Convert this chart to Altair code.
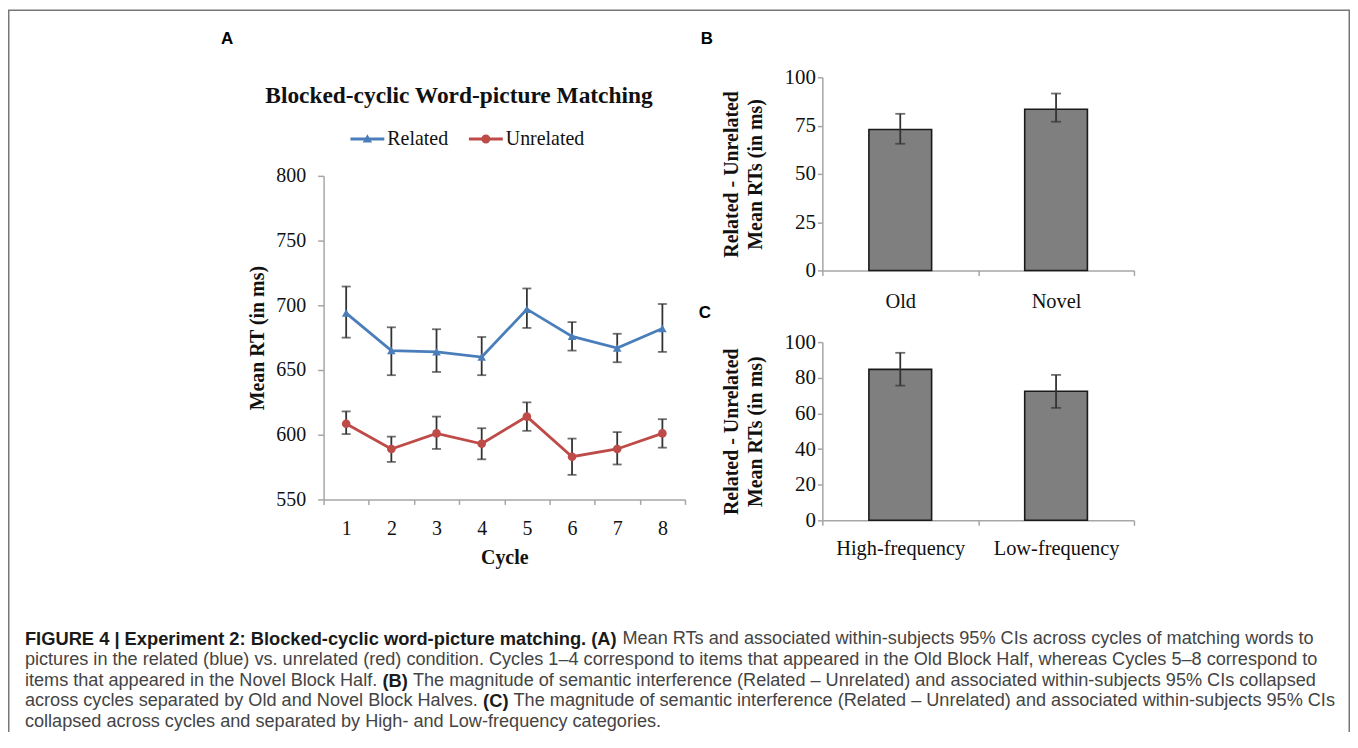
import altair as alt
import pandas as pd

# ----------------------------- data -----------------------------
cycles = [1, 2, 3, 4, 5, 6, 7, 8]
series_names = ["Related", "Unrelated"]
series_colors = ["#4a7ebb", "#be4b48"]
series_shapes = ["triangle-up", "circle"]
related_mean = [694, 665, 664, 660, 697, 676, 667, 682]
related_lo = [675, 646, 648.5, 646, 682.5, 665, 656, 664]
related_hi = [714.5, 683, 681.5, 675.5, 713, 687, 678, 701]
unrelated_mean = [608.5, 589, 601, 593, 614, 583, 589, 601]
unrelated_lo = [600.5, 579, 589, 581, 603, 569, 577, 590]
unrelated_hi = [618, 598.5, 614, 605, 625, 597, 602, 612]

half_labels = ["Old", "Novel"]
half_mean = [73.0, 83.5]
half_lo = [65.6, 77.0]
half_hi = [81.1, 91.6]

freq_labels = ["High-frequency", "Low-frequency"]
freq_mean = [84.7, 72.4]
freq_lo = [75.6, 63.1]
freq_hi = [94.0, 81.6]

a_ticks = [550, 600, 650, 700, 750, 800]
b_ticks = [0, 25, 50, 75, 100]
c_ticks = [0, 20, 40, 60, 80, 100]

title_a = "Blocked-cyclic Word-picture Matching"
ytitle_a = "Mean RT (in ms)"
xtitle_a = "Cycle"
ytitle_bc = ["Related - Unrelated", "Mean RTs (in ms)"]
panel_letters = ["A", "B", "C"]

caption = [
    [("FIGURE 4 | Experiment 2: Blocked-cyclic word-picture matching. (A)", True),
     ("Mean RTs and associated within-subjects 95% CIs across cycles of matching words to", False)],
    [("pictures in the related (blue) vs. unrelated (red) condition. Cycles 1\u20134 correspond to items that appeared in the Old Block Half, whereas Cycles 5\u20138 correspond to", False)],
    [("items that appeared in the Novel Block Half.", False), ("(B)", True),
     ("The magnitude of semantic interference (Related \u2013 Unrelated) and associated within-subjects 95% CIs collapsed", False)],
    [("across cycles separated by Old and Novel Block Halves.", False), ("(C)", True),
     ("The magnitude of semantic interference (Related \u2013 Unrelated) and associated within-subjects 95% CIs", False)],
    [("collapsed across cycles and separated by High- and Low-frequency categories.", False)],
]

# ----------------------------- layout -----------------------------
W, H = 1348, 724
A_XR, A_YR = [317, 680], [492, 167]
B_XR, B_YR = [818, 1131], [262, 68]
C_XR, C_YR = [818, 1131], [513, 334]
SERIF = "Liberation Serif"
SANS = "Liberation Sans"
ERR = "#333333"

# Arial / Helvetica advance widths (1/1000 em) to place mixed-weight caption runs
_reg = {" ": 278, "(": 333, ")": 333, "-": 333, ".": 278, ",": 278, "%": 889, "\u2013": 556, ":": 278, "|": 260}
_bold = {" ": 278, "(": 333, ")": 333, "-": 333, ".": 278, ",": 278, "%": 889, "\u2013": 556, ":": 333, "|": 280}
for d in "0123456789":
    _reg[d] = 556
    _bold[d] = 556
_reg.update(dict(zip("ABCDEFGHIJKLMNOPQRSTUVWXYZ",
                     [667, 667, 722, 722, 667, 611, 778, 722, 278, 500, 667, 556, 833, 722, 778, 667, 778, 722, 667, 611, 722, 667, 944, 667, 667, 611])))
_reg.update(dict(zip("abcdefghijklmnopqrstuvwxyz",
                     [556, 556, 500, 556, 556, 278, 556, 556, 222, 222, 500, 222, 833, 556, 556, 556, 556, 333, 500, 278, 556, 500, 722, 500, 500, 500])))
_bold.update(dict(zip("ABCDEFGHIJKLMNOPQRSTUVWXYZ",
                      [722, 722, 722, 722, 667, 611, 778, 722, 278, 556, 722, 611, 833, 722, 778, 667, 778, 722, 667, 611, 722, 667, 944, 667, 667, 611])))
_bold.update(dict(zip("abcdefghijklmnopqrstuvwxyz",
                      [556, 611, 556, 611, 556, 333, 611, 611, 278, 278, 556, 278, 889, 611, 611, 611, 611, 389, 556, 333, 611, 556, 778, 556, 556, 500])))


def text_width(s, bold, size):
    tbl = _bold if bold else _reg
    return sum(tbl.get(ch, 556) for ch in s) * size / 1000.0


# ----------------------------- frames -----------------------------
n = len(cycles)
dfA = pd.DataFrame({
    "cycle": cycles * 2,
    "series": [series_names[0]] * n + [series_names[1]] * n,
    "marker": [series_shapes[0]] * n + [series_shapes[1]] * n,
    "linecol": [series_colors[0]] * n + [series_colors[1]] * n,
    "mean": related_mean + unrelated_mean,
    "lo": related_lo + unrelated_lo,
    "hi": related_hi + unrelated_hi,
})
capsA = dfA.melt(id_vars=["cycle", "series"], value_vars=["lo", "hi"], value_name="v")

dfB = pd.DataFrame({"cat": half_labels, "mean": half_mean, "lo": half_lo, "hi": half_hi})
capsB = dfB.melt(id_vars=["cat"], value_vars=["lo", "hi"], value_name="v")
dfC = pd.DataFrame({"cat": freq_labels, "mean": freq_mean, "lo": freq_lo, "hi": freq_hi})
capsC = dfC.melt(id_vars=["cat"], value_vars=["lo", "hi"], value_name="v")

# ----------------------------- panel A -----------------------------
scA_x = alt.Scale(type="band", domain=cycles, range=A_XR, paddingInner=0, paddingOuter=0)
scA_y = alt.Scale(domain=[a_ticks[0], a_ticks[-1]], range=A_YR, nice=False, zero=False)
axA_x = alt.Axis(orient="bottom", offset=A_YR[0] - H, title=xtitle_a, labelAngle=0, tickBand="extent",
                 tickSize=5, labelPadding=14, titlePadding=9, labelFontSize=20, titleFontSize=20)
axA_y = alt.Axis(orient="left", offset=-A_XR[0], values=a_ticks, title=ytitle_a, tickSize=6,
                 labelPadding=12, titlePadding=8, labelFontSize=20, titleFontSize=20)
xA = alt.X("cycle:O", scale=scA_x, axis=axA_x)

ruleA = alt.Chart(dfA).mark_rule(color=ERR, strokeWidth=1.8).encode(
    x=xA, y=alt.Y("lo:Q", scale=scA_y, axis=axA_y), y2="hi:Q",
)
capA = alt.Chart(capsA).mark_tick(color=ERR, thickness=1.8, size=9).encode(
    x=xA, y=alt.Y("v:Q", scale=scA_y, axis=axA_y),
)
lineA = alt.Chart(dfA).mark_line(strokeWidth=2.8).encode(
    x=xA, y=alt.Y("mean:Q", scale=scA_y, axis=axA_y),
    stroke=alt.Stroke("linecol:N", scale=None),
)
sym_line = "M-3.4,-0.3H3.4V0.3H-3.4Z"
sym_expr = ("datum.value === 'Related' ? '" + sym_line + " M0,-0.95L0.95,0.7H-0.95Z' : '" + sym_line +
            " M-0.9,0A0.9,0.9,0,1,1,0.9,0A0.9,0.9,0,1,1,-0.9,0Z'")
pointA = alt.Chart(dfA).mark_point(filled=True, opacity=1, size=75).encode(
    x=xA, y=alt.Y("mean:Q", scale=scA_y, axis=axA_y),
    color=alt.Color("series:N", scale=alt.Scale(domain=series_names, range=series_colors),
                    legend=alt.Legend(title=None, orient="none", legendX=351, legendY=120,
                                      direction="horizontal", symbolType=alt.ExprRef(expr=sym_expr),
                                      symbolSize=100, symbolStrokeWidth=0, labelFont=SERIF,
                                      labelFontSize=20, labelColor="#111", labelOffset=10,
                                      columnPadding=20)),
    shape=alt.Shape("marker:N", scale=None),
)
panelA = alt.layer(ruleA, capA, lineA, pointA)


# ----------------------------- panels B, C -----------------------------
def bar_panel(df, caps, cats, xr, yr, ticks, label_pad):
    sx = alt.Scale(type="band", domain=cats, range=xr, paddingInner=0, paddingOuter=0)
    sy = alt.Scale(domain=[ticks[0], ticks[-1]], range=yr, nice=False)
    ax_x = alt.Axis(orient="bottom", offset=yr[0] - H, title=None, labelAngle=0, tickBand="extent",
                    tickSize=5, labelPadding=label_pad, labelFontSize=20.5)
    ax_y = alt.Axis(orient="left", offset=-xr[0], values=ticks, title=ytitle_bc, tickSize=5,
                    labelPadding=2, titlePadding=19, labelFontSize=21, titleFontSize=20,
                    titleLineHeight=24)
    xe = alt.X("cat:N", scale=sx, axis=ax_x)
    bars = alt.Chart(df).mark_bar(size=63, color="#7f7f7f", stroke="#1a1a1a", strokeWidth=1.6).encode(
        x=xe, y=alt.Y("mean:Q", scale=sy, axis=ax_y),
    )
    rules = alt.Chart(df).mark_rule(color=ERR, strokeWidth=1.8).encode(
        x=xe, y=alt.Y("lo:Q", scale=sy, axis=ax_y), y2="hi:Q",
    )
    capsm = alt.Chart(caps).mark_tick(color=ERR, thickness=1.8, size=10).encode(
        x=xe, y=alt.Y("v:Q", scale=sy, axis=ax_y),
    )
    return alt.layer(bars, rules, capsm)


panelB = bar_panel(dfB, capsB, half_labels, B_XR, B_YR, b_ticks, 16)
panelC = bar_panel(dfC, capsC, freq_labels, C_XR, C_YR, c_ticks, 13)


# ----------------------------- texts -----------------------------
def txt(s, x, y, font, size, weight="normal", color="#111", align="left"):
    return alt.Chart(pd.DataFrame({"t": [s]})).mark_text(
        align=align, baseline="middle", font=font, fontSize=size, fontWeight=weight, color=color
    ).encode(text="t:N", x=alt.value(x), y=alt.value(y))


texts = [
    txt(title_a, 453, 87, SERIF, 23.5, "bold", "#111", "center"),
    txt(panel_letters[0], 220, 30, SANS, 17, "bold", "#000", "center"),
    txt(panel_letters[1], 702, 30, SANS, 17, "bold", "#000", "center"),
    txt(panel_letters[2], 700, 305, SANS, 17, "bold", "#000", "center"),
]
BOLD_SIZE, REG_SIZE = 18.4, 18.2
cap_y0, cap_dy = 632, 21
for i, line in enumerate(caption):
    x = 17
    for seg, bold in line:
        size = BOLD_SIZE if bold else REG_SIZE
        texts.append(txt(seg, x, cap_y0 + i * cap_dy, SANS, size,
                         "bold" if bold else "normal", "#1a1a1a" if bold else "#444444"))
        x += text_width(seg, bold, size) + text_width(" ", False, REG_SIZE)

box = alt.Chart(pd.DataFrame({"a": [0]})).mark_rect(fillOpacity=0, stroke="#777777", strokeWidth=1.5).encode(
    x=alt.value(0.75), x2=alt.value(W - 0.75), y=alt.value(0.75), y2=alt.value(H + 30)
)

chart = alt.layer(box, panelA, panelB, panelC, *texts).resolve_scale(
    x="independent", y="independent"
).properties(
    width=W, height=H, padding=0, autosize=alt.AutoSizeParams(type="none"), background="white"
).configure_view(strokeOpacity=0).configure_axis(
    grid=False, domainColor="#a6a6a6", tickColor="#a6a6a6", domainWidth=1.5, tickWidth=1.5,
    labelColor="#111", titleColor="#111", labelFont=SERIF, titleFont=SERIF, titleFontWeight="bold",
)

chart.save("out.html", embed_options={"renderer": "svg", "actions": False})
